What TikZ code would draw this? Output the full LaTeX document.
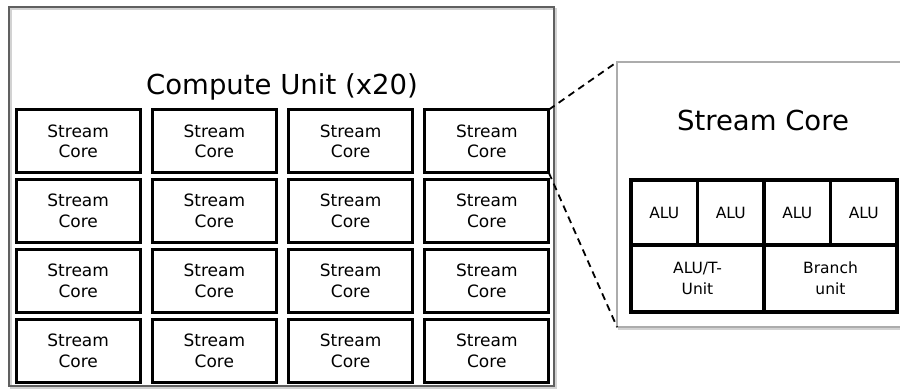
\documentclass[tikz,border=0pt]{standalone}
\usepackage{fontspec}
\setmainfont{DejaVu Sans}
\usetikzlibrary{positioning}

\tikzset{
  core/.style={draw,line width=3.2pt,minimum width=124pt,minimum height=63pt,
    inner sep=0pt,outer sep=0pt,align=center,font=\fontsize{17}{20.5}\selectfont},
  alu/.style={draw,line width=3.2pt,minimum width=66.5pt,minimum height=65pt,
    inner sep=0pt,outer sep=0pt,align=center,font=\fontsize{15.5}{21}\selectfont},
  unit/.style={alu,minimum width=133pt,minimum height=67pt},
  unitbox/.style={draw=gray!75!black,line width=1.4pt},
  shadowline/.style={draw=gray!35,line width=1.6pt},
  headline/.style={font=\fontsize{27.5}{30}\selectfont,anchor=base},
  zoomline/.style={dash pattern=on 7pt off 5pt,line width=1.8pt}
}

\begin{document}
\begin{tikzpicture}[x=1pt,y=-1pt]
\useasboundingbox (0,0) rectangle (900,389);
% compute unit
\draw[shadowline] (11,9) rectangle (556,388);
\draw[unitbox] (9,7) rectangle (554,386);
\node[headline] (cutitle) at (282,94) {Compute Unit (x20)};
\node [matrix,ampersand replacement=\&,inner sep=0pt,nodes={core},column sep=9pt,row sep=3.7pt] (cu) at (282.5,246)
    {
\node (c11) {Stream\\Core}; \& \node (c12) {Stream\\Core}; \& \node (c13) {Stream\\Core}; \& \node (c14) {Stream\\Core}; \\
\node (c21) {Stream\\Core}; \& \node (c22) {Stream\\Core}; \& \node (c23) {Stream\\Core}; \& \node (c24) {Stream\\Core}; \\
\node (c31) {Stream\\Core}; \& \node (c32) {Stream\\Core}; \& \node (c33) {Stream\\Core}; \& \node (c34) {Stream\\Core}; \\
\node (c41) {Stream\\Core}; \& \node (c42) {Stream\\Core}; \& \node (c43) {Stream\\Core}; \& \node (c44) {Stream\\Core}; \\
};
% stream core
\node[draw=gray!35,line width=1.6pt,minimum width=289pt,minimum height=265pt] (scshadow) at (763.5,196.5) {};
\node[draw=gray!65,line width=1.8pt,fill=white,minimum width=289pt,minimum height=265pt,outer sep=0pt] (scbox) at (761.5,194.5) {};
\node[headline] (sctitle) at (763,130) {Stream Core};
\node[alu] (alu1) at (664.25,212.5) {ALU};
\node[alu,right=0pt of alu1] (alu2) {ALU};
\node[alu,right=0pt of alu2] (alu3) {ALU};
\node[alu,right=0pt of alu3] (alu4) {ALU};
\node[unit,anchor=north west] (tunit) at (alu1.south west) {ALU/T-\\Unit};
\node[unit,anchor=north west] (branch) at (alu3.south west) {Branch\\unit};
% zoom lines
\draw[zoomline] (c14.north east) -- (scbox.north west);
\draw[zoomline] (c14.south east) -- (scbox.south west);
\end{tikzpicture}
\end{document}
